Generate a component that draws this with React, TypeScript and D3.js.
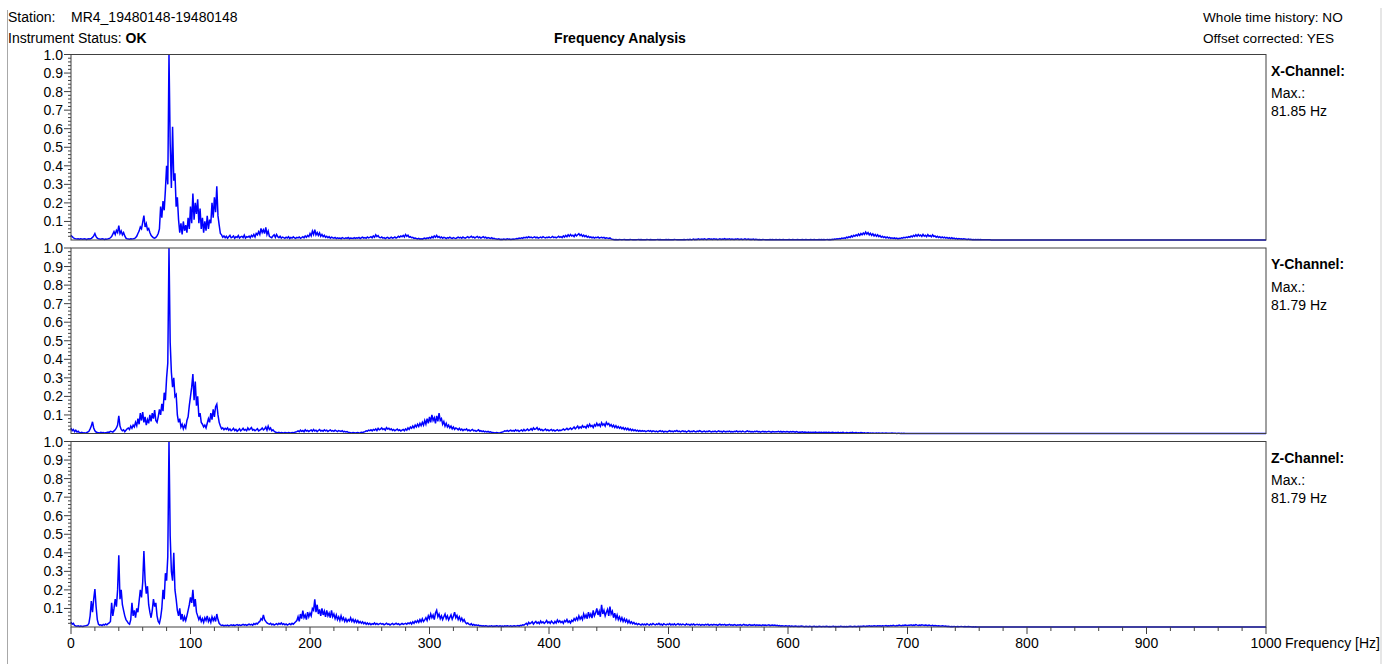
import React from 'react';
import * as d3 from 'd3';

// Spectrum samples every FREQ_STEP Hz starting at 0 Hz, amplitudes in 1/1000 of the normalised scale
const FREQ_STEP = 1;
const AMP_UNIT = 1000;

const xChannel = [
  25, 18, 12, 8, 6, 5, 7, 4, 6, 5, // 0
  4, 6, 5, 3, 5, 7, 6, 9, 14, 22, // 10
  35, 18, 10, 6, 5, 4, 6, 5, 3, 5, // 20
  4, 6, 8, 12, 18, 32, 45, 30, 52, 40, // 30
  78, 35, 48, 28, 40, 22, 10, 6, 5, 4, // 40
  7, 5, 6, 8, 12, 20, 35, 48, 70, 60, // 50
  95, 132, 70, 88, 55, 62, 40, 25, 18, 12, // 60
  10, 14, 22, 35, 60, 180, 120, 210, 160, 270, // 70
  400, 300, 1000, 520, 280, 610, 320, 360, 180, 230, // 80
  110, 40, 90, 30, 100, 50, 80, 40, 120, 60, // 90
  180, 90, 250, 110, 200, 140, 220, 90, 170, 60, // 100
  120, 40, 100, 50, 130, 60, 110, 90, 200, 120, // 110
  230, 150, 290, 130, 80, 35, 28, 15, 22, 12, // 120
  20, 10, 18, 25, 12, 16, 22, 9, 18, 14, // 130
  24, 11, 17, 20, 13, 26, 10, 18, 15, 21, // 140
  12, 25, 18, 30, 16, 35, 28, 45, 30, 62, // 150
  40, 55, 35, 68, 30, 48, 20, 15, 12, 22, // 160
  28, 14, 30, 18, 12, 20, 10, 16, 13, 9, // 170
  15, 11, 18, 8, 14, 10, 17, 12, 9, 14, // 180
  11, 16, 9, 13, 18, 12, 22, 15, 25, 18, // 190
  35, 22, 48, 30, 55, 28, 40, 25, 38, 20, // 200
  30, 18, 25, 14, 20, 12, 18, 10, 15, 12, // 210
  10, 14, 8, 12, 9, 11, 7, 13, 10, 8, // 220
  12, 9, 14, 7, 11, 10, 8, 13, 9, 12, // 230
  10, 14, 8, 12, 15, 10, 13, 9, 16, 11, // 240
  14, 18, 12, 22, 15, 28, 18, 24, 14, 12, // 250
  16, 10, 13, 8, 12, 14, 9, 11, 15, 10, // 260
  12, 16, 10, 14, 20, 15, 22, 18, 25, 16, // 270
  30, 20, 26, 15, 18, 12, 14, 9, 11, 8, // 280
  6, 9, 5, 7, 4, 8, 10, 6, 12, 9, // 290
  14, 10, 18, 12, 22, 15, 25, 14, 19, 11, // 300
  16, 9, 14, 12, 8, 13, 10, 15, 11, 9, // 310
  13, 10, 8, 12, 15, 11, 14, 9, 16, 12, // 320
  10, 14, 18, 12, 16, 20, 13, 17, 11, 15, // 330
  19, 12, 16, 10, 14, 18, 12, 15, 9, 13, // 340
  11, 8, 12, 7, 9, 6, 5, 4, 6, 3, // 350
  4, 3, 5, 4, 3, 6, 4, 5, 3, 4, // 360
  5, 4, 6, 8, 7, 10, 8, 12, 9, 14, // 370
  11, 15, 12, 18, 13, 16, 11, 14, 17, 12, // 380
  15, 10, 13, 16, 12, 18, 14, 11, 15, 13, // 390
  17, 12, 14, 19, 13, 16, 11, 15, 20, 14, // 400
  18, 13, 22, 16, 25, 18, 28, 20, 30, 22, // 410
  26, 18, 30, 22, 28, 34, 24, 30, 20, 26, // 420
  18, 24, 15, 20, 13, 17, 12, 15, 10, 14, // 430
  12, 16, 10, 13, 15, 11, 14, 9, 12, 10, // 440
  8, 11, 6, 4, 3, 2, 3, 2, 2, 3, // 450
  2, 1, 2, 3, 1, 2, 2, 1, 3, 2, // 460
  1, 2, 2, 1, 2, 3, 1, 2, 1, 2, // 470
  2, 1, 3, 2, 1, 2, 1, 2, 2, 1, // 480
  2, 3, 1, 2, 1, 2, 2, 1, 2, 1, // 490
  2, 1, 2, 2, 1, 3, 2, 1, 2, 2, // 500
  1, 2, 2, 3, 1, 2, 3, 2, 4, 2, // 510
  3, 5, 2, 4, 3, 6, 3, 4, 5, 3, // 520
  6, 4, 3, 5, 7, 4, 5, 3, 6, 4, // 530
  5, 3, 4, 6, 3, 5, 4, 7, 3, 5, // 540
  4, 6, 3, 5, 4, 3, 5, 4, 6, 3, // 550
  4, 5, 3, 4, 6, 3, 4, 5, 3, 4, // 560
  3, 5, 2, 4, 3, 2, 3, 2, 2, 3, // 570
  2, 1, 2, 2, 1, 2, 1, 2, 1, 1, // 580
  2, 1, 1, 2, 1, 1, 2, 1, 1, 1, // 590
  1, 2, 1, 1, 2, 1, 1, 1, 2, 1, // 600
  1, 1, 2, 1, 1, 2, 1, 1, 1, 2, // 610
  1, 1, 2, 1, 1, 1, 2, 1, 2, 1, // 620
  2, 1, 2, 3, 2, 3, 2, 4, 3, 5, // 630
  4, 6, 5, 8, 6, 10, 8, 12, 9, 15, // 640
  12, 18, 14, 22, 17, 25, 20, 28, 22, 32, // 650
  24, 35, 28, 38, 30, 43, 32, 40, 28, 36, // 660
  25, 33, 22, 30, 20, 28, 18, 24, 15, 20, // 670
  13, 18, 11, 16, 10, 14, 9, 12, 8, 11, // 680
  7, 10, 6, 9, 8, 12, 10, 14, 11, 16, // 690
  13, 18, 15, 22, 17, 25, 19, 28, 20, 30, // 700
  22, 27, 19, 30, 21, 26, 18, 29, 20, 24, // 710
  17, 28, 19, 22, 15, 20, 13, 18, 12, 16, // 720
  11, 15, 10, 14, 9, 13, 8, 12, 7, 10, // 730
  6, 9, 5, 8, 6, 7, 4, 6, 5, 4, // 740
  3, 5, 3, 4, 2, 3, 2, 3, 1, 2, // 750
  1, 2, 1, 1, 1, 1, 1, 1, 1, 1, // 760
  0, 0, 0, 0, 0, 0, 0, 0, 0, 0, 0, 0, 0, 0, 0, 0, 0, 0, 0, 0, // 770
  0, 0, 0, 0, 0, 0, 0, 0, 0, 0, 0, 0, 0, 0, 0, 0, 0, 0, 0, 0, // 790
  0, 0, 0, 0, 0, 0, 0, 0, 0, 0, 0, 0, 0, 0, 0, 0, 0, 0, 0, 0, // 810
  0, 0, 0, 0, 0, 0, 0, 0, 0, 0, 0, 0, 0, 0, 0, 0, 0, 0, 0, 0, // 830
  0, 0, 0, 0, 0, 0, 0, 0, 0, 0, 0, 0, 0, 0, 0, 0, 0, 0, 0, 0, // 850
  0, 0, 0, 0, 0, 0, 0, 0, 0, 0, 0, 0, 0, 0, 0, 0, 0, 0, 0, 0, // 870
  0, 0, 0, 0, 0, 0, 0, 0, 0, 0, 0, 0, 0, 0, 0, 0, 0, 0, 0, 0, // 890
  0, 0, 0, 0, 0, 0, 0, 0, 0, 0, 0, 0, 0, 0, 0, 0, 0, 0, 0, 0, // 910
  0, 0, 0, 0, 0, 0, 0, 0, 0, 0, 0, 0, 0, 0, 0, 0, 0, 0, 0, 0, // 930
  0, 0, 0, 0, 0, 0, 0, 0, 0, 0, 0, 0, 0, 0, 0, 0, 0, 0, 0, 0, // 950
  0, 0, 0, 0, 0, 0, 0, 0, 0, 0, 0, 0, 0, 0, 0, 0, 0, 0, 0, 0, // 970
  0, 0, 0, 0, 0, 0, 0, 0, 0, 0, 0, // 990-1000
];

const yChannel = [
  30, 15, 22, 10, 18, 8, 12, 5, 4, 6, // 0
  3, 4, 2, 5, 8, 12, 25, 40, 63, 30, // 10
  15, 8, 5, 4, 3, 6, 4, 5, 3, 4, // 20
  5, 8, 6, 12, 10, 7, 14, 20, 30, 45, // 30
  95, 40, 22, 15, 20, 10, 18, 25, 30, 22, // 40
  40, 28, 45, 35, 60, 42, 80, 50, 110, 70, // 50
  115, 60, 90, 45, 75, 55, 100, 65, 110, 80, // 60
  126, 70, 60, 90, 130, 100, 160, 120, 220, 180, // 70
  300, 380, 1000, 490, 330, 250, 300, 200, 210, 100, // 80
  60, 80, 35, 50, 25, 45, 30, 70, 90, 150, // 90
  200, 250, 320, 180, 280, 150, 200, 90, 110, 60, // 100
  50, 35, 45, 30, 55, 80, 60, 110, 75, 130, // 110
  90, 145, 158, 100, 60, 40, 25, 30, 20, 28, // 120
  22, 30, 18, 25, 15, 20, 28, 16, 22, 12, // 130
  18, 25, 14, 20, 28, 18, 22, 15, 30, 20, // 140
  25, 32, 18, 22, 15, 20, 26, 14, 18, 22, // 150
  30, 20, 25, 35, 18, 40, 22, 30, 15, 20, // 160
  12, 8, 5, 4, 6, 3, 5, 4, 3, 5, // 170
  4, 3, 5, 4, 3, 5, 4, 6, 8, 10, // 180
  14, 10, 18, 12, 16, 9, 20, 13, 17, 11, // 190
  15, 19, 12, 22, 14, 18, 10, 16, 21, 13, // 200
  17, 12, 20, 14, 18, 11, 15, 19, 13, 16, // 210
  12, 18, 14, 10, 16, 13, 11, 15, 9, 12, // 220
  8, 10, 6, 5, 4, 3, 5, 4, 3, 4, // 230
  5, 3, 4, 6, 5, 8, 10, 14, 12, 18, // 240
  15, 20, 14, 22, 18, 25, 16, 28, 20, 24, // 250
  30, 22, 26, 18, 32, 24, 28, 20, 25, 17, // 260
  22, 15, 19, 24, 16, 20, 13, 18, 22, 15, // 270
  25, 18, 30, 22, 35, 28, 40, 30, 45, 35, // 280
  50, 38, 55, 42, 60, 45, 70, 50, 80, 55, // 290
  90, 60, 100, 70, 85, 55, 95, 65, 110, 70, // 300
  80, 50, 65, 40, 55, 35, 45, 30, 40, 25, // 310
  35, 22, 30, 26, 20, 28, 18, 24, 16, 22, // 320
  19, 25, 15, 20, 13, 18, 22, 14, 17, 12, // 330
  16, 20, 12, 15, 10, 14, 9, 12, 8, 11, // 340
  7, 9, 6, 5, 4, 3, 5, 4, 3, 4, // 350
  6, 8, 10, 14, 12, 16, 11, 15, 18, 13, // 360
  17, 12, 20, 14, 18, 11, 16, 19, 13, 22, // 370
  15, 18, 24, 16, 20, 26, 18, 30, 22, 25, // 380
  32, 20, 26, 18, 22, 15, 19, 24, 16, 20, // 390
  14, 18, 22, 15, 19, 13, 17, 21, 14, 18, // 400
  16, 20, 24, 18, 22, 28, 20, 25, 30, 22, // 410
  28, 35, 25, 32, 40, 28, 36, 30, 42, 34, // 420
  38, 30, 45, 35, 50, 38, 44, 32, 48, 40, // 430
  55, 42, 50, 38, 58, 45, 52, 40, 60, 48, // 440
  54, 40, 48, 36, 45, 32, 42, 30, 38, 28, // 450
  35, 25, 32, 22, 30, 20, 28, 18, 25, 16, // 460
  22, 15, 20, 13, 18, 12, 16, 11, 15, 12, // 470
  14, 10, 13, 16, 11, 15, 9, 14, 12, 10, // 480
  13, 9, 12, 15, 10, 14, 8, 12, 11, 9, // 490
  12, 15, 10, 13, 9, 14, 11, 16, 10, 13, // 500
  9, 12, 14, 10, 13, 8, 11, 15, 9, 12, // 510
  10, 14, 11, 9, 13, 10, 15, 12, 8, 11, // 520
  13, 9, 12, 10, 14, 11, 8, 12, 10, 13, // 530
  9, 11, 14, 10, 12, 8, 13, 11, 9, 12, // 540
  10, 13, 9, 11, 8, 12, 10, 14, 9, 11, // 550
  12, 9, 13, 10, 8, 11, 14, 10, 12, 9, // 560
  11, 8, 12, 10, 13, 9, 11, 7, 10, 12, // 570
  9, 11, 8, 10, 12, 9, 7, 11, 10, 8, // 580
  10, 9, 12, 8, 11, 7, 10, 9, 8, 11, // 590
  9, 7, 10, 8, 11, 9, 7, 10, 8, 6, // 600
  8, 7, 9, 6, 8, 7, 5, 8, 6, 7, // 610
  5, 7, 6, 8, 5, 6, 7, 5, 6, 4, // 620
  6, 5, 7, 4, 6, 5, 4, 6, 5, 4, // 630
  5, 4, 6, 3, 5, 4, 6, 4, 3, 5, // 640
  4, 3, 5, 4, 6, 3, 4, 5, 3, 4, // 650
  3, 5, 4, 3, 4, 2, 3, 4, 2, 3, // 660
  2, 3, 2, 1, 2, 1, 2, 1, 1, 2, // 670
  1, 1, 2, 1, 1, 1, 1, 2, 1, 1, // 680
  1, 0, 1, 1, 0, 1, 0, 1, 0, 0, // 690
  0, 0, 0, 0, 0, 0, 0, 0, 0, 0, 0, 0, 0, 0, 0, 0, 0, 0, 0, 0, // 700
  0, 0, 0, 0, 0, 0, 0, 0, 0, 0, 0, 0, 0, 0, 0, 0, 0, 0, 0, 0, // 720
  0, 0, 0, 0, 0, 0, 0, 0, 0, 0, 0, 0, 0, 0, 0, 0, 0, 0, 0, 0, // 740
  0, 0, 0, 0, 0, 0, 0, 0, 0, 0, 0, 0, 0, 0, 0, 0, 0, 0, 0, 0, // 760
  0, 0, 0, 0, 0, 0, 0, 0, 0, 0, 0, 0, 0, 0, 0, 0, 0, 0, 0, 0, // 780
  0, 0, 0, 0, 0, 0, 0, 0, 0, 0, 0, 0, 0, 0, 0, 0, 0, 0, 0, 0, // 800
  0, 0, 0, 0, 0, 0, 0, 0, 0, 0, 0, 0, 0, 0, 0, 0, 0, 0, 0, 0, // 820
  0, 0, 0, 0, 0, 0, 0, 0, 0, 0, 0, 0, 0, 0, 0, 0, 0, 0, 0, 0, // 840
  0, 0, 0, 0, 0, 0, 0, 0, 0, 0, 0, 0, 0, 0, 0, 0, 0, 0, 0, 0, // 860
  0, 0, 0, 0, 0, 0, 0, 0, 0, 0, 0, 0, 0, 0, 0, 0, 0, 0, 0, 0, // 880
  0, 0, 0, 0, 0, 0, 0, 0, 0, 0, 0, 0, 0, 0, 0, 0, 0, 0, 0, 0, // 900
  0, 0, 0, 0, 0, 0, 0, 0, 0, 0, 0, 0, 0, 0, 0, 0, 0, 0, 0, 0, // 920
  0, 0, 0, 0, 0, 0, 0, 0, 0, 0, 0, 0, 0, 0, 0, 0, 0, 0, 0, 0, // 940
  0, 0, 0, 0, 0, 0, 0, 0, 0, 0, 0, 0, 0, 0, 0, 0, 0, 0, 0, 0, // 960
  0, 0, 0, 0, 0, 0, 0, 0, 0, 0, 0, 0, 0, 0, 0, 0, 0, 0, 0, 0, // 980
  0, // 1000
];

const zChannel = [
  27, 15, 20, 8, 5, 4, 6, 3, 5, 4, // 0
  3, 5, 6, 8, 10, 20, 60, 140, 80, 150, // 10
  205, 110, 40, 15, 10, 12, 8, 14, 10, 16, // 20
  12, 18, 22, 30, 130, 60, 100, 150, 110, 200, // 30
  387, 150, 200, 120, 90, 60, 40, 30, 20, 15, // 40
  40, 130, 60, 90, 50, 100, 80, 140, 200, 160, // 50
  240, 410, 250, 180, 220, 120, 80, 50, 90, 150, // 60
  110, 130, 60, 30, 20, 50, 100, 200, 150, 290, // 70
  250, 380, 1000, 490, 300, 250, 400, 200, 150, 90, // 80
  60, 100, 40, 70, 30, 55, 35, 60, 90, 120, // 90
  160, 130, 200, 110, 150, 80, 60, 40, 55, 30, // 100
  45, 25, 50, 35, 60, 30, 45, 25, 55, 35, // 110
  50, 30, 70, 40, 20, 12, 8, 10, 6, 9, // 120
  7, 10, 6, 9, 12, 8, 11, 7, 10, 13, // 130
  9, 12, 8, 11, 14, 10, 13, 9, 12, 15, // 140
  11, 14, 10, 18, 13, 20, 16, 25, 30, 45, // 150
  38, 65, 40, 30, 22, 18, 15, 20, 12, 16, // 160
  10, 14, 18, 12, 20, 15, 22, 14, 18, 12, // 170
  16, 10, 14, 18, 12, 20, 15, 22, 28, 35, // 180
  55, 30, 70, 45, 88, 50, 65, 40, 80, 55, // 190
  75, 60, 100, 90, 149, 80, 120, 70, 95, 60, // 200
  100, 65, 85, 55, 90, 60, 75, 50, 90, 55, // 210
  70, 45, 65, 40, 55, 35, 60, 38, 50, 30, // 220
  45, 28, 40, 32, 50, 30, 42, 26, 38, 25, // 230
  35, 22, 30, 20, 28, 18, 25, 15, 22, 14, // 240
  20, 12, 18, 15, 22, 14, 19, 13, 17, 20, // 250
  15, 18, 12, 16, 20, 14, 17, 11, 15, 19, // 260
  13, 16, 20, 14, 18, 12, 15, 19, 14, 17, // 270
  20, 15, 22, 18, 25, 16, 28, 20, 32, 24, // 280
  35, 25, 40, 28, 45, 30, 38, 50, 35, 60, // 290
  45, 70, 50, 65, 40, 75, 90, 55, 70, 45, // 300
  60, 40, 55, 70, 45, 60, 38, 52, 65, 42, // 310
  58, 80, 50, 62, 40, 55, 35, 48, 30, 40, // 320
  25, 18, 22, 15, 12, 18, 10, 14, 9, 12, // 330
  8, 10, 6, 8, 5, 7, 4, 6, 5, 3, // 340
  5, 4, 6, 3, 5, 4, 7, 5, 3, 6, // 350
  4, 5, 3, 6, 4, 7, 5, 4, 6, 3, // 360
  5, 7, 4, 6, 8, 5, 9, 7, 12, 10, // 370
  15, 20, 12, 25, 18, 22, 28, 16, 24, 30, // 380
  20, 26, 18, 32, 22, 28, 19, 25, 35, 22, // 390
  28, 20, 32, 24, 18, 30, 22, 38, 26, 34, // 400
  24, 30, 20, 35, 28, 40, 25, 32, 22, 36, // 410
  30, 45, 35, 50, 38, 60, 42, 55, 40, 70, // 420
  50, 65, 45, 80, 55, 70, 48, 90, 60, 75, // 430
  100, 65, 85, 55, 120, 70, 90, 60, 80, 95, // 440
  60, 110, 70, 85, 50, 75, 45, 65, 40, 55, // 450
  35, 50, 30, 45, 28, 40, 22, 35, 20, 28, // 460
  18, 25, 15, 20, 12, 18, 14, 10, 16, 12, // 470
  15, 11, 18, 13, 10, 16, 12, 19, 14, 11, // 480
  17, 13, 20, 12, 15, 10, 18, 14, 11, 16, // 490
  13, 19, 11, 15, 12, 17, 10, 14, 18, 12, // 500
  15, 11, 16, 13, 10, 17, 12, 14, 9, 15, // 510
  12, 16, 10, 13, 15, 11, 14, 9, 13, 12, // 520
  10, 14, 11, 15, 9, 12, 13, 10, 14, 11, // 530
  13, 9, 12, 15, 10, 13, 11, 14, 9, 12, // 540
  11, 14, 10, 12, 9, 13, 11, 8, 12, 10, // 550
  13, 9, 11, 14, 10, 12, 8, 11, 13, 9, // 560
  11, 10, 13, 8, 12, 9, 11, 10, 7, 12, // 570
  9, 11, 8, 10, 12, 7, 9, 11, 8, 10, // 580
  7, 9, 6, 8, 5, 7, 6, 4, 6, 5, // 590
  4, 6, 3, 5, 4, 3, 5, 4, 3, 4, // 600
  3, 5, 4, 3, 2, 4, 3, 2, 4, 3, // 610
  2, 3, 4, 2, 3, 2, 4, 3, 2, 3, // 620
  3, 2, 4, 3, 2, 3, 2, 3, 4, 2, // 630
  3, 2, 3, 2, 4, 3, 2, 3, 2, 3, // 640
  2, 3, 4, 3, 2, 3, 4, 2, 3, 4, // 650
  3, 4, 3, 5, 4, 3, 5, 4, 6, 4, // 660
  5, 4, 6, 5, 4, 7, 5, 6, 4, 7, // 670
  5, 6, 8, 5, 7, 6, 8, 6, 9, 7, // 680
  6, 8, 7, 10, 8, 7, 9, 8, 11, 9, // 690
  8, 10, 9, 12, 8, 11, 9, 13, 10, 8, // 700
  11, 9, 12, 10, 8, 11, 9, 7, 10, 8, // 710
  7, 9, 6, 8, 7, 5, 7, 6, 4, 6, // 720
  5, 4, 5, 3, 4, 3, 2, 3, 2, 3, // 730
  2, 1, 2, 1, 2, 3, 2, 1, 2, 1, // 740
  1, 2, 1, 1, 0, 1, 0, 1, 0, 0, // 750
  0, 0, 0, 0, 0, 0, 0, 0, 0, 0, 0, 0, 0, 0, 0, 0, 0, 0, 0, 0, // 760
  0, 0, 0, 0, 0, 0, 0, 0, 0, 0, 0, 0, 0, 0, 0, 0, 0, 0, 0, 0, // 780
  0, 0, 0, 0, 0, 0, 0, 0, 0, 0, 0, 0, 0, 0, 0, 0, 0, 0, 0, 0, // 800
  0, 0, 0, 0, 0, 0, 0, 0, 0, 0, 0, 0, 0, 0, 0, 0, 0, 0, 0, 0, // 820
  0, 0, 0, 0, 0, 0, 0, 0, 0, 0, 0, 0, 0, 0, 0, 0, 0, 0, 0, 0, // 840
  0, 0, 0, 0, 0, 0, 0, 0, 0, 0, 0, 0, 0, 0, 0, 0, 0, 0, 0, 0, // 860
  0, 0, 0, 0, 0, 0, 0, 0, 0, 0, 0, 0, 0, 0, 0, 0, 0, 0, 0, 0, // 880
  0, 0, 0, 0, 0, 0, 0, 0, 0, 0, 0, 0, 0, 0, 0, 0, 0, 0, 0, 0, // 900
  0, 0, 0, 0, 0, 0, 0, 0, 0, 0, 0, 0, 0, 0, 0, 0, 0, 0, 0, 0, // 920
  0, 0, 0, 0, 0, 0, 0, 0, 0, 0, 0, 0, 0, 0, 0, 0, 0, 0, 0, 0, // 940
  0, 0, 0, 0, 0, 0, 0, 0, 0, 0, 0, 0, 0, 0, 0, 0, 0, 0, 0, 0, // 960
  0, 0, 0, 0, 0, 0, 0, 0, 0, 0, 0, 0, 0, 0, 0, 0, 0, 0, 0, 0, // 980
  0, // 1000
];

const channelSeries = [xChannel, yChannel, zChannel];
const channelNames = ['X-Channel:', 'Y-Channel:', 'Z-Channel:'];
const maxFreqLabels = ['81.85 Hz', '81.79 Hz', '81.79 Hz'];
const yTickValues = [0.1, 0.2, 0.3, 0.4, 0.5, 0.6, 0.7, 0.8, 0.9, 1.0];
const yTickLabels = ['0.1', '0.2', '0.3', '0.4', '0.5', '0.6', '0.7', '0.8', '0.9', '1.0'];
const xTickValues = [0, 100, 200, 300, 400, 500, 600, 700, 800, 900, 1000];
const xTickLabels = ['0', '100', '200', '300', '400', '500', '600', '700', '800', '900', '1000'];
const freqDomain = [0, 1000];
const ampDomain = [0, 1];

const FONT = '"Liberation Sans", Arial, Helvetica, sans-serif';
const W = 1397;
const H = 664;
const PLOT_LEFT = 71;
const PLOT_RIGHT = 1266;
const PANEL_TOPS = [54.5, 248, 441.5];
const PANEL_H = 185.5;
const FRAME = '#404040';
const LINE_BLUE = '#0000ff';

export default function App() {
  const x = d3.scaleLinear().domain(freqDomain).range([PLOT_LEFT, PLOT_RIGHT]);
  const minorY = d3.range(0.02, 1.001, 0.02).filter((v) => Math.abs(Math.round(v * 10) - v * 10) > 1e-6);
  const minorX = d3.range(0, 1001, 20).filter((v) => v % 100 !== 0);

  return (
    <svg
      width={W}
      height={H}
      style={{ position: 'absolute', left: 0, top: 0, display: 'block', background: '#fff' }}
      fontFamily={FONT}
    >
      {/* page borders */}
      <line x1={7.5} x2={7.5} y1={10} y2={H} stroke="#a8a8a8" strokeWidth={1} />
      <rect x={1380} y={8} width={2} height={H - 8} fill="#e6e6e6" />

      {/* header */}
      <text x={8} y={22} fontSize={14}>Station:</text>
      <text x={71} y={22} fontSize={14}>MR4_19480148-19480148</text>
      <text x={8} y={43} fontSize={14}>
        Instrument Status: <tspan fontWeight="bold">OK</tspan>
      </text>
      <text x={620} y={43} fontSize={14} fontWeight="bold" textAnchor="middle">Frequency Analysis</text>
      <text x={1203} y={22} fontSize={13.6}>Whole time history: NO</text>
      <text x={1203} y={43} fontSize={13.6}>Offset corrected: YES</text>

      {channelSeries.map((series, ci) => {
        const top = PANEL_TOPS[ci];
        const base = top + PANEL_H;
        const y = d3.scaleLinear().domain(ampDomain).range([base, top]);
        const line = d3
          .line<number>()
          .x((_, i) => x(i * FREQ_STEP))
          .y((d) => y(d / AMP_UNIT));
        return (
          <g key={ci}>
            <path d={line(series) || ''} fill="none" stroke={LINE_BLUE} strokeWidth={1.5} strokeLinejoin="miter" />
            {/* frame */}
            <rect
              x={PLOT_LEFT}
              y={top}
              width={PLOT_RIGHT - PLOT_LEFT}
              height={PANEL_H}
              fill="none"
              stroke={FRAME}
              strokeWidth={1}
            />
            {/* y axis ticks */}
            {minorY.map((v) => (
              <line key={'m' + v} x1={PLOT_LEFT - 3} x2={PLOT_LEFT} y1={y(v)} y2={y(v)} stroke={FRAME} strokeWidth={1} />
            ))}
            {yTickValues.map((v, i) => (
              <g key={'t' + v}>
                <line x1={PLOT_LEFT - 7} x2={PLOT_LEFT} y1={y(v)} y2={y(v)} stroke={FRAME} strokeWidth={1} />
                <text x={PLOT_LEFT - 8} y={y(v)} dy="0.36em" fontSize={14} textAnchor="end">
                  {yTickLabels[i]}
                </text>
              </g>
            ))}
            {/* channel info */}
            <text x={1271} y={top + 21} fontSize={14} fontWeight="bold">{channelNames[ci]}</text>
            <text x={1271} y={top + 43.5} fontSize={14}>Max.:</text>
            <text x={1271} y={top + 61.5} fontSize={14}>{maxFreqLabels[ci]}</text>
            {ci === channelSeries.length - 1 && (
              <g>
                {minorX.map((v) => (
                  <line key={'mx' + v} x1={x(v)} x2={x(v)} y1={base} y2={base + 4} stroke={FRAME} strokeWidth={1} />
                ))}
                {xTickValues.map((v, i) => (
                  <g key={'tx' + v}>
                    <line x1={x(v)} x2={x(v)} y1={base} y2={base + 7} stroke={FRAME} strokeWidth={1} />
                    <text x={x(v)} y={base + 21} fontSize={14} textAnchor="middle">
                      {xTickLabels[i]}
                    </text>
                  </g>
                ))}
                <text x={x(1000) + 19} y={base + 21} fontSize={14}>Frequency [Hz]</text>
              </g>
            )}
          </g>
        );
      })}
    </svg>
  );
}
